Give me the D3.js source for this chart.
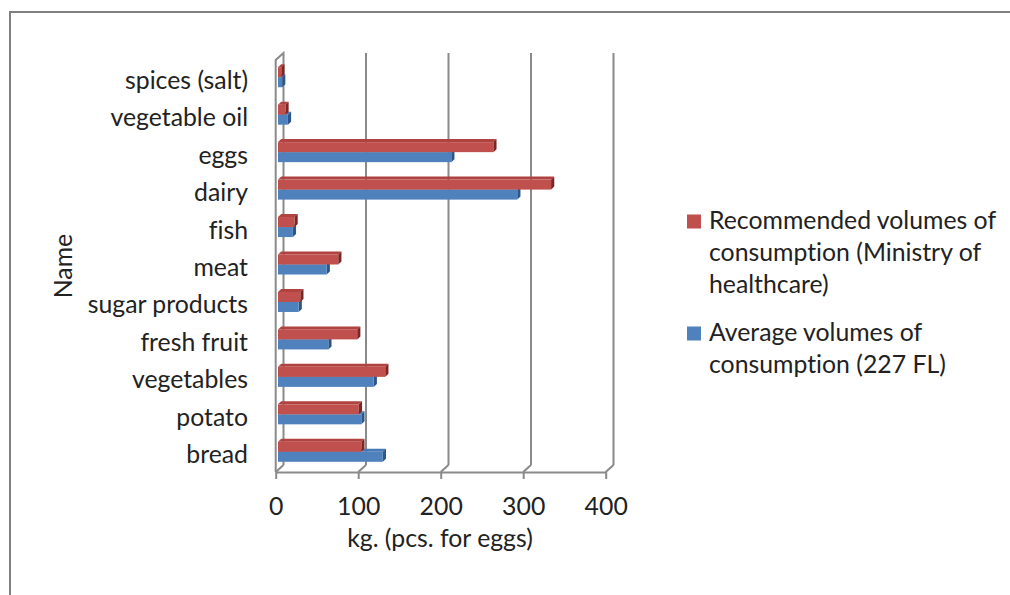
<!DOCTYPE html>
<html><head><meta charset="utf-8">
<script src="https://cdn.jsdelivr.net/npm/d3@7"></script>
<style>
html,body{margin:0;padding:0;background:#fff;}
svg{display:block;font-family:Lato,"Open Sans",sans-serif;}
svg text{font-variant-ligatures:none;font-feature-settings:"liga" 0,"dlig" 0;}
</style></head>
<body><svg id="c" width="1010" height="595"></svg>
<script>
const categories = ["spices (salt)","vegetable oil","eggs","dairy","fish","meat","sugar products","fresh fruit","vegetables","potato","bread"];
const recommended = [4, 9, 261, 331, 20, 73, 27, 96, 130, 98, 101];
const average = [5, 12, 210, 290, 18, 59, 25, 61, 116, 101, 127];
const seriesNames = ["Recommended volumes of consumption (Ministry of healthcare)","Average volumes of consumption (227 FL)"];
const legendLines = [["Recommended volumes of","consumption (Ministry of","healthcare)"],["Average volumes of","consumption (227 FL)"]];
const xTicks = [0,100,200,300,400];
const xTitle = "kg. (pcs. for eggs)";
const yTitle = "Name";

const svg = d3.select("#c");
const FS = 24.8;
const textColor = "#222";
const gridColor = "#8a8a8a";
// oblique 3D depth offsets
const DX = 7.8, DY = -7;
const BX = 2.3, BY = -1.5;   // bars' front face depth position
const SX = 3.2, SY = -3;     // bar thickness in depth

const colors = {
  rec: {front:"#C0504D", top:"#b0423f", side:"#7c2624"},
  avg: {front:"#4F81BD", top:"#477ab5", side:"#2b5687"}
};

// outer frame
svg.append("rect").attr("x",10).attr("y",12).attr("width",1100).attr("height",700)
  .attr("fill","none").attr("stroke","#808080").attr("stroke-width",2);

const x = d3.scaleLinear().domain([0,400]).range([275.7,605.7]);
const y = d3.scaleBand().domain(categories).range([60,472]).padding(0);
const ySub = d3.scaleBand().domain(["rec","avg"]).range([0,y.bandwidth()]).paddingInner(0).paddingOuter(0.87);

const floorY = 472, topY = 60;

// back wall gridlines
const g = svg.append("g").attr("fill","none").attr("stroke",gridColor).attr("stroke-width",2);
xTicks.forEach(v=>{
  if(v>0) g.append("line").attr("x1",x(v)+DX).attr("x2",x(v)+DX).attr("y1",topY+DY).attr("y2",floorY+DY);
  g.append("line").attr("x1",x(v)).attr("y1",floorY).attr("x2",x(v)+DX).attr("y2",floorY+DY);
});
// left side wall outline
g.append("path").attr("d",`M${x(0)},${floorY}L${x(0)},${topY}L${x(0)+DX},${topY+DY}L${x(0)+DX},${floorY+DY}`);

// value axis along front floor edge
const axis = d3.axisBottom(x).tickValues(xTicks).tickSize(7).tickSizeOuter(0).tickFormat(d3.format("d"));
const ax = svg.append("g").attr("transform",`translate(0,${floorY})`).call(axis);
ax.select(".domain").attr("stroke",gridColor).attr("stroke-width",2);
ax.selectAll(".tick line").attr("stroke",gridColor).attr("stroke-width",2);
ax.selectAll(".tick text").attr("y",43).attr("dy",null).attr("fill",textColor)
  .style("font-size",FS+"px").style("font-family","Lato");

// bars
const data = categories.map((c,i)=>({c, rec:recommended[i], avg:average[i]}));
const bars = svg.append("g");
function bar(gp, x0, x1, y0, h, col){
  gp.append("path").attr("d",`M${x0},${y0}L${x0+SX},${y0+SY}L${x1+SX},${y0+SY}L${x1},${y0}Z`).attr("fill",col.top);
  gp.append("path").attr("d",`M${x1},${y0}L${x1+SX},${y0+SY}L${x1+SX},${y0+h+SY}L${x1},${y0+h}Z`).attr("fill",col.side);
  gp.append("rect").attr("x",x0).attr("y",y0).attr("width",Math.max(0,x1-x0)).attr("height",h).attr("fill",col.front);
}
data.forEach(d=>{
  const gp = bars.append("g");
  ["avg","rec"].forEach(k=>{
    bar(gp, x(0)+BX, x(d[k])+BX, y(d.c)+ySub(k)+BY, ySub.bandwidth(), colors[k]);
  });
});

// category labels
svg.append("g").selectAll("text").data(categories).join("text")
  .attr("x",248).attr("y",d=>y(d)+y.bandwidth()/2+10)
  .attr("text-anchor","end").attr("fill",textColor).style("font-size",FS+"px")
  .text(d=>d);

// axis titles
svg.append("text").attr("x",440).attr("y",547).attr("text-anchor","middle")
  .attr("fill",textColor).style("font-size",FS+"px").text(xTitle);
svg.append("text").attr("transform","translate(72,266) rotate(-90)").attr("text-anchor","middle")
  .attr("fill",textColor).style("font-size",FS+"px").text(yTitle);

// legend
const legY = [228.5, 340.5];
const legKeys = ["rec","avg"];
legKeys.forEach((k,i)=>{
  svg.append("rect").attr("x",687).attr("y",legY[i]-14).attr("width",14).attr("height",14).attr("fill",colors[k].front);
  const t = svg.append("text").attr("x",709).attr("y",legY[i]).attr("fill",textColor).style("font-size",FS+"px");
  legendLines[i].forEach((ln,j)=>{
    t.append("tspan").attr("x",709).attr("y",legY[i]+j*32).text(ln);
  });
  t.append("title").text(seriesNames[i]);
});
</script></body></html>
